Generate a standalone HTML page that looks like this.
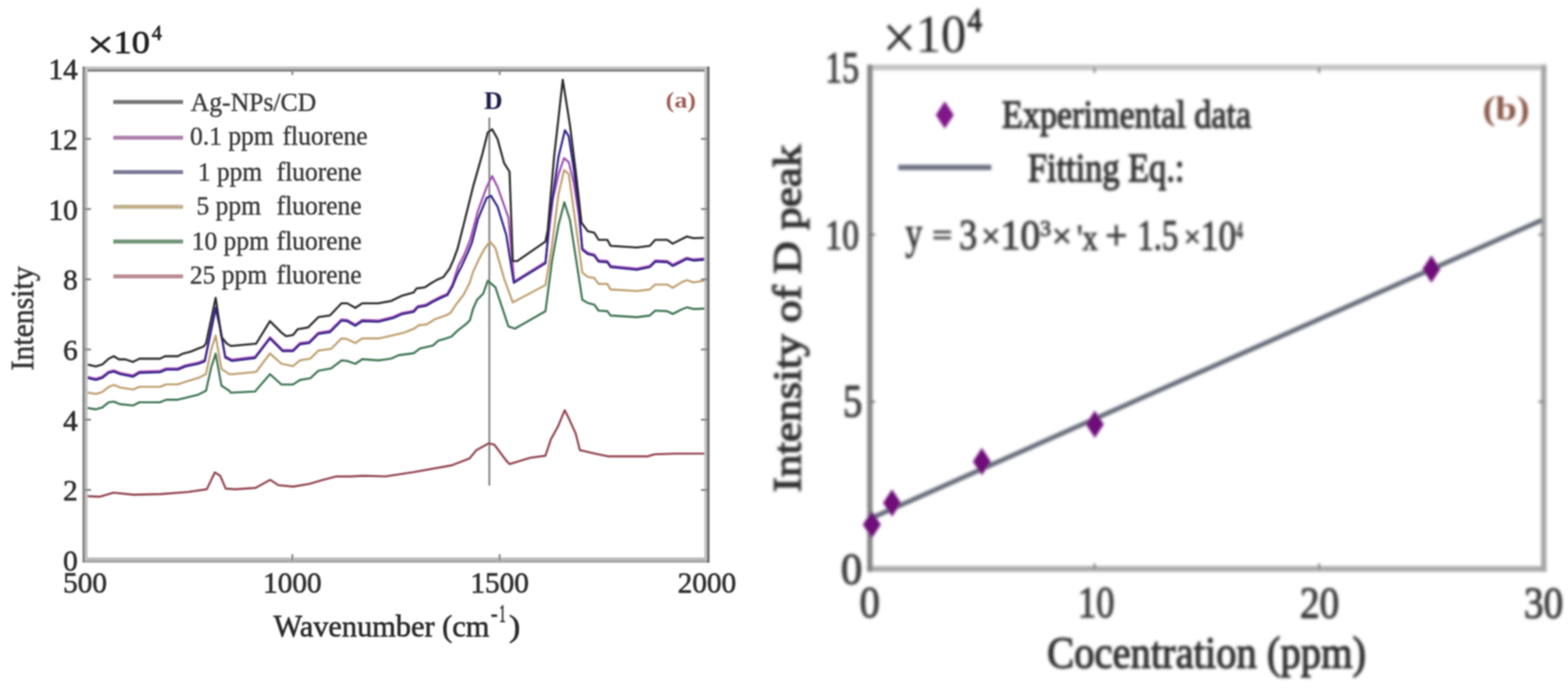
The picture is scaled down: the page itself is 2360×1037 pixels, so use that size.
<!DOCTYPE html>
<html><head><meta charset="utf-8"><style>
html,body{margin:0;padding:0;background:#fff;width:2360px;height:1037px;overflow:hidden}
svg{display:block;font-family:"Liberation Serif", "Times New Roman", serif}
</style></head><body>
<svg width="2360" height="1037" viewBox="0 0 2360 1037">
<rect width="2360" height="1037" fill="#ffffff"/>
<defs><filter id="blA" x="-5%" y="-5%" width="110%" height="110%"><feGaussianBlur stdDeviation="1.2"/></filter><filter id="blB" x="-5%" y="-5%" width="110%" height="110%"><feGaussianBlur stdDeviation="2.0"/></filter></defs>
<g filter="url(#blA)">
<defs><clipPath id="ca"><rect x="128" y="104" width="936" height="739"/></clipPath></defs>
<g clip-path="url(#ca)" fill="none" stroke-linejoin="round">
<line x1="736.5" y1="177" x2="736.5" y2="731" stroke="#8a8a8a" stroke-width="3"/>
<polyline points="127.0,590.0 144.3,593.0 153.9,590.0 163.6,582.3 171.3,579.4 180.9,583.3 200.2,586.2 209.8,582.3 240.7,582.3 250.3,578.5 267.7,578.5 279.3,574.6 298.5,568.8 310.1,563.0 317.8,526.4 324.6,505.0 333.3,555.3 345.0,563.0 349.0,563.2 385.5,559.7 406.3,532.0 423.7,547.6 441.0,551.0 451.5,542.4 467.0,539.8 479.2,527.6 498.3,525.0 514.0,509.4 522.6,510.3 534.8,516.3 545.2,509.4 569.5,509.4 590.0,505.1 608.5,500.5 624.0,494.3 630.1,489.6 642.5,488.1 654.8,480.4 670.3,475.0 678.0,471.1 687.2,457.2 698.0,443.3 707.3,424.8 711.9,409.4 721.2,389.3 728.9,375.0 737.4,363.4 745.6,373.3 758.7,419.2 771.8,455.2 821.0,429.0 830.8,370.0 840.5,292.9 849.0,256.0 856.0,262.0 865.6,331.4 876.4,410.2 884.6,416.7 894.4,418.4 901.0,427.4 914.1,427.4 919.0,435.6 958.4,438.0 978.0,435.6 986.2,428.2 1004.3,428.2 1012.5,433.1 1025.6,425.0 1033.8,421.6 1043.6,425.0 1065.0,421.6" stroke="#bfa070" stroke-width="3.1"/>
<polyline points="127.0,613.2 144.3,616.1 153.9,613.2 163.6,605.5 171.3,604.5 180.9,608.4 200.2,610.3 209.8,605.5 240.7,605.5 250.3,601.6 267.7,601.6 279.3,598.7 298.5,593.9 310.1,588.1 317.8,553.4 324.6,532.2 333.3,580.4 345.0,588.1 347.4,591.0 383.8,589.2 406.3,563.2 423.7,578.8 441.0,578.8 451.5,571.9 467.0,569.3 479.2,558.0 498.3,554.5 514.0,542.4 522.6,543.2 534.8,547.6 545.2,540.6 569.5,542.4 588.5,539.8 600.0,534.6 622.8,531.6 632.0,524.6 651.7,520.0 659.5,512.8 670.3,509.7 679.5,506.6 688.8,497.4 701.1,488.1 707.3,481.9 711.9,465.0 718.1,451.1 727.4,441.8 734.1,422.5 745.6,432.3 765.2,491.3 775.0,494.6 821.0,468.4 830.8,393.0 840.5,339.2 849.4,304.4 857.9,331.4 867.5,393.2 876.4,451.1 884.6,456.0 894.4,458.5 901.0,467.5 914.1,468.4 919.0,474.9 958.4,477.4 978.0,474.9 986.2,467.5 1004.3,468.4 1012.5,472.5 1025.6,465.9 1033.8,462.6 1043.6,465.1 1065.0,464.3" stroke="#3e7452" stroke-width="3.1"/>
<polyline points="127.0,746.6 150.5,747.6 170.8,741.5 201.4,744.6 242.0,743.6 282.7,740.5 311.2,736.4 323.4,711.0 331.5,716.1 339.7,735.4 353.9,736.4 384.4,734.4 406.8,722.2 419.0,730.3 441.4,732.4 465.8,728.3 486.1,722.2 506.4,717.1 526.8,717.1 547.1,716.1 580.0,717.0 621.5,710.8 679.7,700.4 706.7,690.0 717.0,677.6 735.7,667.2 744.0,669.3 762.7,694.2 766.9,698.4 798.0,689.0 820.9,685.9 829.2,661.0 839.6,642.3 850.0,617.4 856.2,629.8 866.5,652.7 872.8,677.6 895.6,682.8 916.4,686.9 974.5,686.9 985.0,683.8 1016.0,682.8 1065.0,682.8" stroke="#924450" stroke-width="3.1"/>
<polyline points="127.0,566.1 144.3,569.9 153.9,567.0 163.6,559.3 171.3,557.4 180.9,561.2 200.2,565.1 209.8,559.3 240.7,558.4 250.3,554.5 267.7,554.5 279.3,549.7 298.5,545.8 308.2,542.0 317.8,495.7 324.6,462.2 331.3,491.8 339.0,536.2 349.0,541.4 383.8,537.1 406.3,507.6 425.4,526.7 441.0,526.7 451.5,516.3 465.3,514.5 479.2,500.7 496.6,498.1 514.0,480.7 522.6,481.6 534.8,488.5 545.2,481.6 569.5,482.4 591.5,477.0 605.4,470.9 622.4,467.8 628.6,460.8 640.9,458.5 651.7,452.4 664.1,446.2 673.3,442.3 681.0,428.0 690.0,400.0 698.0,385.0 708.0,360.0 719.3,317.5 732.5,281.5 740.7,265.0 748.9,281.5 765.2,327.4 771.8,400.0 774.0,423.5 778.4,420.8 821.0,394.4 821.0,394.5 826.0,350.0 832.0,300.0 840.7,262.0 849.0,238.0 856.0,244.0 863.6,275.0 871.4,325.0 876.4,373.9 884.6,380.5 894.4,383.0 901.0,392.0 914.1,392.8 919.0,400.2 958.4,404.2 978.0,400.2 986.2,392.0 1004.3,392.8 1012.5,398.5 1025.6,392.0 1033.8,387.9 1043.6,390.3 1065.0,388.7" stroke="#a050b0" stroke-width="3.1"/>
<polyline points="127.0,567.9 144.3,571.7 153.9,568.8 163.6,561.1 171.3,559.2 180.9,563.0 200.2,566.9 209.8,561.1 240.7,560.2 250.3,556.3 267.7,556.3 279.3,551.5 298.5,547.6 308.2,543.8 317.8,497.5 324.6,464.0 331.3,493.6 339.0,538.0 349.0,543.2 383.8,538.9 406.3,509.4 425.4,528.5 441.0,528.5 451.5,518.1 465.3,516.3 479.2,502.5 496.6,499.9 514.0,482.5 522.6,483.4 534.8,490.3 545.2,483.4 569.5,484.2 591.5,478.8 605.4,472.7 622.4,469.6 628.6,462.6 640.9,460.3 651.7,454.2 664.1,448.0 673.3,444.1 681.1,431.0 687.2,415.6 695.0,400.1 704.2,380.1 710.4,364.6 719.3,330.0 732.5,297.9 739.0,294.6 748.9,311.0 762.0,353.6 773.4,425.7 778.4,422.5 821.0,396.2 827.5,327.4 840.7,235.6 850.3,196.0 856.0,205.0 863.6,254.3 871.4,316.0 876.4,375.7 884.6,382.3 894.4,384.8 901.0,393.8 914.1,394.6 919.0,402.0 958.4,406.0 978.0,402.0 986.2,393.8 1004.3,394.6 1012.5,400.3 1025.6,393.8 1033.8,389.7 1043.6,392.1 1065.0,390.5" stroke="#30208a" stroke-width="3.1"/>
<polyline points="127.0,547.6 144.3,551.5 153.9,548.6 163.6,539.9 171.3,536.1 179.0,540.9 188.6,540.9 200.2,544.7 209.8,539.9 240.7,539.9 248.4,536.1 267.7,536.1 275.4,532.2 287.0,529.3 298.5,524.5 306.3,521.6 310.1,516.8 324.6,448.3 333.3,507.1 341.0,516.8 347.4,520.7 385.5,517.2 406.3,483.4 423.7,500.7 430.6,506.0 441.0,504.2 448.0,495.5 463.6,492.9 479.2,477.3 496.6,474.7 514.0,456.5 522.6,456.5 534.8,463.4 545.2,456.5 569.5,456.5 588.5,453.0 605.4,444.9 622.4,440.3 627.0,434.1 639.4,432.5 648.7,426.4 657.9,421.0 667.2,417.1 676.4,404.8 682.6,390.9 688.8,373.9 699.7,330.7 712.8,278.2 725.9,232.3 734.1,199.5 740.7,194.6 748.9,209.3 758.7,245.4 766.9,258.5 771.8,393.0 778.4,393.0 821.0,363.4 824.3,347.0 834.0,235.6 840.7,176.6 847.0,120.0 857.9,188.7 867.5,265.9 875.2,335.3 884.6,347.9 894.4,350.3 901.0,361.0 914.1,361.0 919.0,370.0 958.4,372.5 978.0,370.0 986.2,361.0 1004.3,361.0 1012.5,366.7 1025.6,360.2 1033.8,356.0 1043.6,358.5 1065.0,357.7" stroke="#2a2a2a" stroke-width="3.1"/>
</g>
<rect x="124" y="100" width="944" height="4" fill="#c2c2c4"/>
<rect x="124" y="104" width="944" height="4" fill="#888888"/>
<rect x="124" y="839" width="944" height="4" fill="#bebebe"/>
<rect x="124" y="843" width="944" height="4" fill="#a9a9a9"/>
<rect x="124" y="100" width="4" height="747" fill="#8a8a8a"/>
<rect x="128" y="104" width="4" height="739" fill="#c4c4c4"/>
<rect x="1060" y="104" width="4" height="739" fill="#c4c4c4"/>
<rect x="1064" y="100" width="4" height="747" fill="#727272"/>
<line x1="128" y1="737.4" x2="137" y2="737.4" stroke="#8a8a8a" stroke-width="3"/>
<line x1="1055" y1="737.4" x2="1064" y2="737.4" stroke="#8a8a8a" stroke-width="3"/>
<line x1="128" y1="631.7" x2="137" y2="631.7" stroke="#8a8a8a" stroke-width="3"/>
<line x1="1055" y1="631.7" x2="1064" y2="631.7" stroke="#8a8a8a" stroke-width="3"/>
<line x1="128" y1="526" x2="137" y2="526" stroke="#8a8a8a" stroke-width="3"/>
<line x1="1055" y1="526" x2="1064" y2="526" stroke="#8a8a8a" stroke-width="3"/>
<line x1="128" y1="420.4" x2="137" y2="420.4" stroke="#8a8a8a" stroke-width="3"/>
<line x1="1055" y1="420.4" x2="1064" y2="420.4" stroke="#8a8a8a" stroke-width="3"/>
<line x1="128" y1="314.7" x2="137" y2="314.7" stroke="#8a8a8a" stroke-width="3"/>
<line x1="1055" y1="314.7" x2="1064" y2="314.7" stroke="#8a8a8a" stroke-width="3"/>
<line x1="128" y1="209" x2="137" y2="209" stroke="#8a8a8a" stroke-width="3"/>
<line x1="1055" y1="209" x2="1064" y2="209" stroke="#8a8a8a" stroke-width="3"/>
<line x1="440" y1="843" x2="440" y2="834" stroke="#8a8a8a" stroke-width="3"/>
<line x1="440" y1="104" x2="440" y2="113" stroke="#8a8a8a" stroke-width="3"/>
<line x1="752" y1="843" x2="752" y2="834" stroke="#8a8a8a" stroke-width="3"/>
<line x1="752" y1="104" x2="752" y2="113" stroke="#8a8a8a" stroke-width="3"/>
<text x="117" y="859" text-anchor="end" font-size="44" fill="#303030" stroke="#303030" stroke-width="0.9">0</text>
<text x="117" y="753.4" text-anchor="end" font-size="44" fill="#303030" stroke="#303030" stroke-width="0.9">2</text>
<text x="117" y="647.7" text-anchor="end" font-size="44" fill="#303030" stroke="#303030" stroke-width="0.9">4</text>
<text x="117" y="542" text-anchor="end" font-size="44" fill="#303030" stroke="#303030" stroke-width="0.9">6</text>
<text x="117" y="436.4" text-anchor="end" font-size="44" fill="#303030" stroke="#303030" stroke-width="0.9">8</text>
<text x="117" y="330.7" text-anchor="end" font-size="44" fill="#303030" stroke="#303030" stroke-width="0.9">10</text>
<text x="117" y="225" text-anchor="end" font-size="44" fill="#303030" stroke="#303030" stroke-width="0.9">12</text>
<text x="117" y="119.4" text-anchor="end" font-size="44" fill="#303030" stroke="#303030" stroke-width="0.9">14</text>
<text x="128" y="892" text-anchor="middle" font-size="44" fill="#303030" stroke="#303030" stroke-width="0.9">500</text>
<text x="440" y="892" text-anchor="middle" font-size="44" fill="#303030" stroke="#303030" stroke-width="0.9">1000</text>
<text x="752" y="892" text-anchor="middle" font-size="44" fill="#303030" stroke="#303030" stroke-width="0.9">1500</text>
<text x="1064" y="892" text-anchor="middle" font-size="44" fill="#303030" stroke="#303030" stroke-width="0.9">2000</text>
<text transform="translate(411.70,957.67) scale(0.9876,1)" font-size="46.28" fill="#2c2c2c" stroke="#2c2c2c" stroke-width="0.9">Wavenumber (cm</text>
<text transform="translate(738.85,935.31) scale(0.8547,1)" font-size="36.00" fill="#2c2c2c" stroke="#2c2c2c" stroke-width="0.9">-</text>
<text transform="translate(751.26,936.00) scale(0.5243,1)" font-size="37.88" fill="#2c2c2c" stroke="#2c2c2c" stroke-width="0.9">1</text>
<text transform="translate(766.16,957.67) scale(1.0908,1)" font-size="46.28" fill="#2c2c2c" stroke="#2c2c2c" stroke-width="0.9">)</text>
<text transform="translate(49.80,557.57) rotate(-90) scale(0.9326,1)" font-size="48.00" fill="#303030" stroke="#303030" stroke-width="0.8">Intensity</text>
<text transform="translate(131.27,86.66) scale(1.2158,1)" font-size="58.90" fill="#222" stroke="#222" stroke-width="1.0">×</text>
<text transform="translate(170.70,79.51) scale(1.1221,1)" font-size="48.89" fill="#222" stroke="#222" stroke-width="1.0">10</text>
<text transform="translate(228.40,60.00) scale(0.9427,1)" font-size="31.94" fill="#222" stroke="#222" stroke-width="1.0">4</text>
<line x1="170.5" y1="153.6" x2="275.5" y2="153.6" stroke="#747474" stroke-width="6"/>
<line x1="170.5" y1="207.3" x2="275.5" y2="207.3" stroke="#ac80aa" stroke-width="6"/>
<line x1="170.5" y1="258.9" x2="275.5" y2="258.9" stroke="#7a7a98" stroke-width="6"/>
<line x1="170.5" y1="311.2" x2="275.5" y2="311.2" stroke="#c0b08c" stroke-width="6"/>
<line x1="170.5" y1="363.4" x2="275.5" y2="363.4" stroke="#6e9476" stroke-width="6"/>
<line x1="170.5" y1="415.9" x2="275.5" y2="415.9" stroke="#bc8c94" stroke-width="6"/>
<text transform="translate(287.11,166.80) scale(0.9550,1)" font-size="40.46" fill="#3a3a3a" stroke="#3a3a3a" stroke-width="0.6">Ag-NPs/CD</text>
<text transform="translate(0,218.40) scale(0.9850,1)" y="0" font-size="39.00" fill="#3a3a3a" xml:space="preserve" stroke="#3a3a3a" stroke-width="0.6"><tspan x="290.42">0.1 ppm</tspan><tspan x="431.82">fluorene</tspan></text>
<text transform="translate(0,271.60) scale(0.9850,1)" y="0" font-size="39.00" fill="#3a3a3a" xml:space="preserve" stroke="#3a3a3a" stroke-width="0.6"><tspan x="302.17">1 ppm</tspan><tspan x="422.69">fluorene</tspan></text>
<text transform="translate(0,323.00) scale(0.9850,1)" y="0" font-size="39.00" fill="#3a3a3a" xml:space="preserve" stroke="#3a3a3a" stroke-width="0.6"><tspan x="300.30">5 ppm</tspan><tspan x="422.69">fluorene</tspan></text>
<text transform="translate(0,375.80) scale(0.9850,1)" y="0" font-size="39.00" fill="#3a3a3a" xml:space="preserve" stroke="#3a3a3a" stroke-width="0.6"><tspan x="293.03">10 ppm</tspan><tspan x="422.69">fluorene</tspan></text>
<text transform="translate(0,426.80) scale(0.9850,1)" y="0" font-size="39.00" fill="#3a3a3a" xml:space="preserve" stroke="#3a3a3a" stroke-width="0.6"><tspan x="290.22">25 ppm</tspan><tspan x="422.69">fluorene</tspan></text>
<text transform="translate(728.83,164.40) scale(0.9841,1)" font-size="38.78" font-weight="bold" fill="#1e1e48">D</text>
<text transform="translate(1001.83,161.62) scale(1.1337,1)" font-size="34.71" font-weight="bold" fill="#a06058">(a)</text>
</g>
<g filter="url(#blB)">
<line x1="1305" y1="101.6" x2="2327.5" y2="101.6" stroke="#c4c4c4" stroke-width="8.5"/>
<line x1="1305" y1="856.3" x2="2327.5" y2="856.3" stroke="#acacac" stroke-width="8.5"/>
<line x1="2323.5" y1="97.5" x2="2323.5" y2="860.5" stroke="#a6a6a6" stroke-width="8"/>
<line x1="1309.3" y1="97.5" x2="1309.3" y2="860.5" stroke="#848484" stroke-width="8"/>
<line x1="1309.3" y1="604.7333333333333" x2="1317.3" y2="604.7333333333333" stroke="#777" stroke-width="3"/>
<line x1="2315.5" y1="604.7333333333333" x2="2323.5" y2="604.7333333333333" stroke="#777" stroke-width="3"/>
<line x1="1309.3" y1="353.1666666666667" x2="1317.3" y2="353.1666666666667" stroke="#777" stroke-width="3"/>
<line x1="2315.5" y1="353.1666666666667" x2="2323.5" y2="353.1666666666667" stroke="#777" stroke-width="3"/>
<line x1="1647.3666666666666" y1="856.3" x2="1647.3666666666666" y2="848.3" stroke="#777" stroke-width="3"/>
<line x1="1647.3666666666666" y1="101.6" x2="1647.3666666666666" y2="109.6" stroke="#777" stroke-width="3"/>
<line x1="1985.4333333333334" y1="856.3" x2="1985.4333333333334" y2="848.3" stroke="#777" stroke-width="3"/>
<line x1="1985.4333333333334" y1="101.6" x2="1985.4333333333334" y2="109.6" stroke="#777" stroke-width="3"/>
<line x1="1310" y1="780.5" x2="2321" y2="331.2" stroke="#666c7a" stroke-width="7"/>
<polygon points="1312.2,768.9 1325.7,789.4 1312.2,809.9 1298.7,789.4" fill="#70107a"/>
<polygon points="1342.6,736.6 1356.1,757.1 1342.6,777.6 1329.1,757.1" fill="#70107a"/>
<polygon points="1477.8,674.2 1491.3,694.7 1477.8,715.2 1464.3,694.7" fill="#70107a"/>
<polygon points="1647.8,618.1 1661.3,638.6 1647.8,659.1 1634.3,638.6" fill="#70107a"/>
<polygon points="2154.4,384.6 2167.9,405.1 2154.4,425.6 2140.9,405.1" fill="#70107a"/>
<text transform="translate(1242.04,124.33) scale(0.7594,1)" font-size="67.16" fill="#3a3a3a" stroke="#3a3a3a" stroke-width="1.6">15</text>
<text transform="translate(1242.05,374.86) scale(0.7983,1)" font-size="63.70" fill="#3a3a3a" stroke="#3a3a3a" stroke-width="1.6">10</text>
<text transform="translate(1268.64,626.79) scale(0.8261,1)" font-size="70.68" fill="#3a3a3a" stroke="#3a3a3a" stroke-width="1.6">5</text>
<text transform="translate(1265.57,879.33) scale(0.9706,1)" font-size="66.67" fill="#3a3a3a" stroke="#3a3a3a" stroke-width="1.6">0</text>
<text transform="translate(1293.71,929.32) scale(0.8977,1)" font-size="68.15" fill="#3a3a3a" stroke="#3a3a3a" stroke-width="1.6">0</text>
<text transform="translate(1622.15,929.32) scale(0.8134,1)" font-size="68.15" fill="#3a3a3a" stroke="#3a3a3a" stroke-width="1.6">10</text>
<text transform="translate(1956.48,929.83) scale(0.8788,1)" font-size="67.41" fill="#3a3a3a" stroke="#3a3a3a" stroke-width="1.6">20</text>
<text transform="translate(2293.70,929.83) scale(0.8755,1)" font-size="67.41" fill="#3a3a3a" stroke="#3a3a3a" stroke-width="1.6">30</text>
<text transform="translate(1576.06,1004.83) scale(0.9164,1)" font-size="66.67" fill="#2e2e2e" stroke="#2e2e2e" stroke-width="1.8">Cocentration (ppm)</text>
<text transform="translate(1204.65,740.88) rotate(-90) scale(1.1381,1)" font-size="59.78" fill="#2e2e2e" stroke="#2e2e2e" stroke-width="1.8">Intensity of D peak</text>
<text transform="translate(1327.69,88.76) scale(0.9307,1)" font-size="98.16" fill="#222">×</text>
<text transform="translate(1378.35,78.19) scale(0.9413,1)" font-size="80.74" fill="#222">10</text>
<text transform="translate(1456.12,47.00) scale(0.8784,1)" font-size="50.19" fill="#222" stroke="#222" stroke-width="1.5">4</text>
<polygon points="1422,152.5 1435.5,173 1422,193.5 1408.5,173" fill="#80148a"/>
<text transform="translate(1508.09,192.09) scale(0.8797,1)" font-size="58.40" fill="#333" stroke="#2e2e2e" stroke-width="1.8">Experimental data</text>
<line x1="1352" y1="252" x2="1492" y2="252" stroke="#6a7080" stroke-width="8"/>
<text transform="translate(1547.08,272.51) scale(0.8562,1)" font-size="60.40" fill="#333" stroke="#2e2e2e" stroke-width="1.8">Fitting Eq.:</text>
<text transform="translate(1362.87,373.67) scale(0.7577,1)" font-size="66.67" fill="#363636" stroke="#363636" stroke-width="1.4">y</text>
<text transform="translate(1403.37,368.13) scale(1.1975,1)" font-size="44.00" fill="#363636" stroke="#363636" stroke-width="1.4">=</text>
<text transform="translate(1443.41,375.34) scale(0.8243,1)" font-size="66.17" fill="#363636" stroke="#363636" stroke-width="1.4">3</text>
<text transform="translate(1476.95,373.36) scale(0.9594,1)" font-size="52.76" fill="#363636" stroke="#363636" stroke-width="1.4">×</text>
<text transform="translate(1505.75,375.36) scale(0.9310,1)" font-size="64.44" fill="#363636" stroke="#363636" stroke-width="1.4">10</text>
<text transform="translate(1565.45,355.16) scale(0.9569,1)" font-size="34.20" fill="#363636" stroke="#363636" stroke-width="1.4">3</text>
<text transform="translate(1583.25,373.36) scale(1.0062,1)" font-size="52.76" fill="#363636" stroke="#363636" stroke-width="1.4">×</text>
<text transform="translate(1621.06,376.00) scale(0.8414,1)" font-size="54.20" fill="#363636" stroke="#363636" stroke-width="1.4">'x</text>
<text transform="translate(1663.54,376.24) scale(0.9483,1)" font-size="62.37" fill="#363636" stroke="#363636" stroke-width="1.4">+</text>
<text transform="translate(1711.67,375.51) scale(0.7500,1)" font-size="65.93" fill="#363636" stroke="#363636" stroke-width="1.4">1.5</text>
<text transform="translate(1781.94,371.90) scale(0.9790,1)" font-size="45.40" fill="#363636" stroke="#363636" stroke-width="1.4">×</text>
<text transform="translate(1807.35,375.86) scale(0.8342,1)" font-size="63.70" fill="#363636" stroke="#363636" stroke-width="1.4">10</text>
<text transform="translate(1860.59,358.50) scale(0.5716,1)" font-size="35.74" fill="#363636" stroke="#363636" stroke-width="1.4">4</text>
<text transform="translate(2231.53,180.11) scale(1.1324,1)" font-size="51.24" font-weight="bold" fill="#8a5848">(b)</text>
</g>
</svg>
</body></html>
